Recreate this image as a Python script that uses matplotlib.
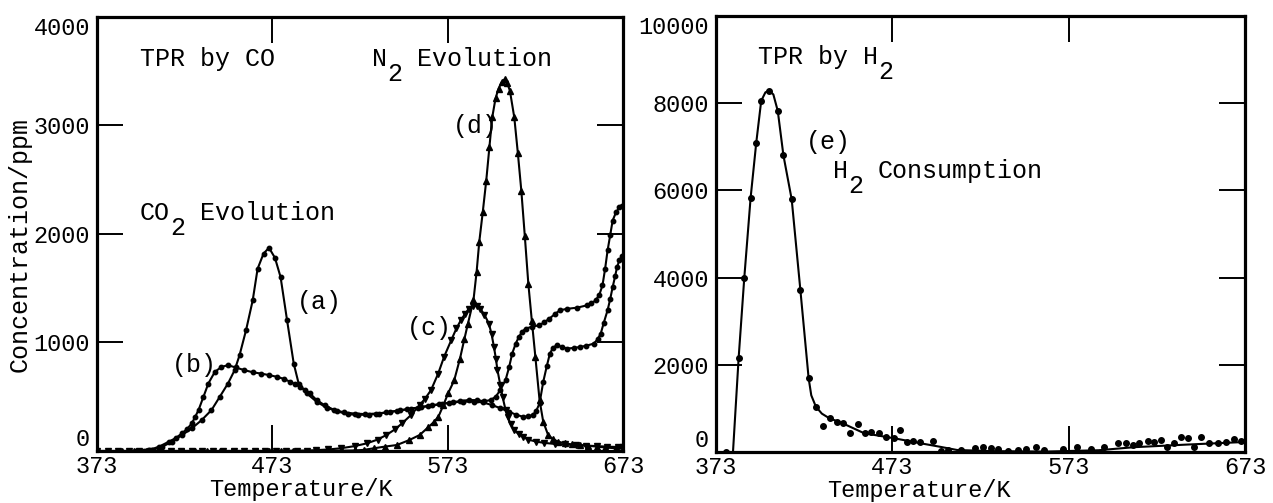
import matplotlib
matplotlib.use("Agg")
import matplotlib.pyplot as plt

plt.rcParams['font.family'] = ['Liberation Mono', 'DejaVu Sans Mono']

# ---- TPR by CO : CO2 evolution (a), (b) and N2 evolution (c), (d) ----
T_a = [395, 400, 404.6, 410.3, 415.9, 421.5, 427.1, 432.7, 438.3, 443, 447.7, 451.5,
       454.3, 458, 461.8, 464.6, 468, 471.1, 474.5, 477.7, 481.4, 485.2, 488, 492.7,
       498.3, 504, 510, 516, 522, 528, 534, 540, 546, 552, 558, 564, 570, 576, 582,
       588, 593, 598, 603, 608, 612, 616, 619, 621.6, 623.5, 625.4, 627.5, 629.5,
       631.3, 633, 635.2, 638, 641, 645, 648.6, 652, 656.4, 658.5, 660.3, 662, 664.2,
       665.7, 667.1, 668.5, 669.6, 671, 672.5]
C_a = [0, 3, 9, 40, 86, 147, 209, 285, 377, 499, 622, 745,
       883, 1113, 1388, 1680, 1820, 1873, 1780, 1603, 1205, 806, 622, 530,
       453, 400, 365, 340, 333, 335, 345, 360, 375, 390, 405, 420, 435, 448, 455,
       455, 448, 425, 395, 361, 335, 315, 320, 331, 370, 438, 637, 780,
       898, 950, 975, 960, 944, 950, 959, 970, 990, 1030, 1082, 1180, 1297,
       1400, 1511, 1610, 1695, 1760, 1800]

T_b = [390, 396, 402.8, 408.4, 414, 418, 421.5, 424.5, 427.1, 429, 430.9, 433.7,
       436.5, 440.2, 444, 447.7, 452, 457.1, 462, 466.4, 471, 475.8, 479.5, 483.3,
       486, 489, 491.8, 494.5, 498.3, 503, 508, 514, 520, 526, 532, 538, 544, 550,
       556, 562, 568, 574, 580, 585, 590, 594, 597.5, 600.3, 603, 606, 608, 609.8,
       611.8, 613.6, 615.5, 617.5, 621, 625.2, 628, 631, 634, 637, 641, 646.8,
       652.6, 655, 657.4, 659.5, 661.3, 662.8, 664.2, 665.7, 667.1, 669, 671, 672.5]
C_b = [-5, 0, 9, 40, 86, 120, 163, 205, 255, 315, 377, 499,
       622, 729, 775, 791, 770, 745, 725, 714, 700, 683, 665, 637,
       615, 591, 560, 530, 469, 420, 380, 355, 345, 340, 345, 355, 370, 385,
       400, 415, 430, 445, 460, 470, 468, 458, 470, 499, 560, 653, 770, 898,
       990, 1051, 1100, 1128, 1145, 1159, 1185, 1220, 1260, 1297, 1310, 1321,
       1343, 1360, 1389, 1440, 1527, 1680, 1848, 1990, 2124, 2200, 2246, 2260]

T_c = [373, 379, 385, 391, 397, 403, 409, 415, 421, 427, 433, 439, 445, 451, 457,
       463, 469, 475, 481, 487, 493, 498, 505, 512, 520, 527, 533, 538, 543, 547,
       552, 557, 560, 563.5, 567.6, 571, 575, 578, 580.5, 583, 585, 587.3, 589.5,
       591.6, 594, 596.5, 598, 599.4, 600.5, 601.4, 603, 604.3, 606, 607.2, 609,
       611, 613.5, 615.9, 619, 623.6, 628, 634, 640, 646, 652, 658, 664, 670, 673]
C_c = [0, 0, 0, 0, 0, 0, 0, 0, 0, 0, 0, 0, 0, 0, 0,
       0, 0, 0, 2, 3, 4, 8, 14, 25, 45, 71, 105, 147, 200, 255,
       330, 423, 480, 561, 714, 870, 1020, 1130, 1205, 1266, 1310, 1340, 1335,
       1312, 1255, 1174, 1080, 959, 850, 745, 610, 499, 380, 315, 245,
       193, 155, 131, 105, 86, 75, 65, 60, 55, 50, 45, 40, 37, 35]

T_d = [373, 380, 387, 394, 401, 408, 415, 422, 429, 436, 443, 450, 457, 464, 471,
       478, 485, 492, 499, 506, 513, 520, 525, 531, 537, 544, 551, 557, 562, 565,
       567.7, 570.5, 573.2, 576.7, 580, 582.5, 584.5, 587.7, 589.5, 591, 593, 595,
       596.8, 598.4, 600.3, 602, 603.8, 605.6, 607, 608.5, 611, 613, 615, 617, 619,
       621, 623, 625.4, 627.5, 630.3, 633, 636, 640, 644, 648.6, 653, 658.4, 663,
       669, 673]
C_d = [0, 0, 0, 0, 0, 0, 0, 0, 0, 0, 0, 0, 0, 0, 0,
       0, 0, 0, 0, 2, 3, 5, 10, 25, 40, 55, 100, 147, 220, 265,
       315, 420, 530, 650, 850, 1030, 1170, 1388, 1650, 1925, 2200, 2492,
       2800, 3074, 3250, 3340, 3400, 3427, 3390, 3320, 3074, 2750, 2400, 1980, 1542,
       1200, 870, 469, 270, 147, 110, 86, 70, 60, 55, 48, 40, 32,
       25, 20]

# ---- TPR by H2 : H2 consumption (e) ----
T_e_curve = [382.6, 385.8, 389, 392.6, 395.8, 398.6, 401, 403.3, 405.5, 408, 411.2,
             415.9, 420.8, 425.5, 427, 429.6, 433, 437.2, 444.7, 457, 474, 489,
             500, 509.7, 530, 560, 590, 610, 640, 673]
C_e_curve = [0, 2154, 3992, 5832, 7096, 8053, 8250, 8283, 8200, 7823, 6805,
             5793, 3724, 1694, 1300, 1041, 880, 775, 660, 430, 315, 200,
             120, 46, 20, 10, 40, 110, 170, 230]

T_e_pts = [378.8, 385.8, 389, 392.6, 395.8, 398.6, 403.3, 408, 411.2, 415.9, 420.8,
           425.5, 429.6, 433.6, 437.4, 441.6, 444.9, 449, 453.5, 457.2, 461, 465.2,
           469.5, 473.8, 477.1, 481.4, 484.6, 488.4, 496, 500.7, 504.4, 512, 519.6,
           524.3, 529, 532.8, 538.5, 544, 548.8, 554.5, 559, 569.6, 578, 585.6,
           593.2, 600.8, 605.5, 609.3, 613, 617.8, 621.5, 625.3, 629, 632.9, 636.7,
           640.5, 644.3, 648, 652.8, 657.5, 662.2, 667, 670.6]
C_e_pts = [0, 2154, 3992, 5832, 7096, 8053, 8283, 7823, 6805, 5793, 3724,
           1694, 1041, 598, 774, 697, 660, 430, 644, 430, 467, 430,
           338, 315, 506, 237, 260, 237, 260, 30, 46, 46, 85,
           122, 85, 62, 30, 46, 62, 122, 46, 62, 122, 62,
           122, 214, 200, 161, 200, 253, 237, 276, 122, 214, 352,
           315, 108, 338, 214, 214, 237, 292, 260]

x_ticks = [373, 473, 573, 673]


def sub_text(ax, x, y, before, sub, after, size=18):
    # monospace font: one character advance = 0.6 em, so pieces line up
    adv = 0.6 * size
    ax.text(x, y, before, fontsize=size, ha='left', va='center')
    ax.annotate(sub, xy=(x, y), xytext=(len(before) * adv, -0.6 * size),
                textcoords='offset points', fontsize=size, ha='left', va='center')
    if after:
        ax.annotate(after, xy=(x, y), xytext=((len(before) + len(sub) + 1) * adv, 0),
                    textcoords='offset points', fontsize=size, ha='left', va='center')


def style_axes(ax, ymax, yticks):
    ax.set_xlim(373, 673)
    ax.set_ylim(0, ymax)
    ax.set_xticks(x_ticks)
    ax.set_yticks(yticks)
    for s in ax.spines.values():
        s.set_linewidth(2.3)
    ax.tick_params(direction='in', length=19, width=1.4, top=True, right=True,
                   labelsize=17)
    ax.tick_params(axis='x', pad=3)
    ax.tick_params(axis='y', pad=5)
    # end labels sit inside the axis range, as in the original
    yt = ax.yaxis.get_major_ticks()
    yt[0].label1.set_verticalalignment('bottom')
    yt[-1].label1.set_verticalalignment('top')
    ax.set_xlabel('Temperature/K', fontsize=17)


fig = plt.figure(figsize=(12.73, 5.03), dpi=100)
ax1 = fig.add_axes([0.0762, 0.1034, 0.4132, 0.8628])
ax2 = fig.add_axes([0.5625, 0.1014, 0.4155, 0.8668])

line_kw = dict(color='black', linewidth=1.5)
ax1.plot(T_a, C_a, marker='o', markersize=3.2, **line_kw)
ax1.plot(T_b, C_b, marker='o', markersize=3.2, **line_kw)
ax1.plot(T_c, C_c, marker='v', markersize=3.8, **line_kw)
ax1.plot(T_d, C_d, marker='^', markersize=3.8, **line_kw)

style_axes(ax1, 4000, [0, 1000, 2000, 3000, 4000])
ax1.set_ylabel('Concentration/ppm', fontsize=18)
ax1.yaxis.set_label_coords(-0.124, 0.476)
ax1.xaxis.set_label_coords(0.388, -0.062)

ax1.text(397.5, 3614, 'TPR by CO', fontsize=18, ha='left', va='center')
sub_text(ax1, 530, 3614, 'N', '2', 'Evolution')
sub_text(ax1, 397.5, 2198, 'CO', '2', 'Evolution')
ax1.text(487, 1370, '(a)', fontsize=18, ha='left', va='center')
ax1.text(415.8, 791, '(b)', fontsize=18, ha='left', va='center')
ax1.text(549.8, 1131, '(c)', fontsize=18, ha='left', va='center')
ax1.text(576, 2998, '(d)', fontsize=18, ha='left', va='center')

ax2.plot(T_e_curve, C_e_curve, **line_kw)
ax2.plot(T_e_pts, C_e_pts, linestyle='none', marker='o', markersize=4, color='black')

style_axes(ax2, 10000, [0, 2000, 4000, 6000, 8000, 10000])
ax2.xaxis.set_label_coords(0.384, -0.062)

sub_text(ax2, 396.8, 9057, 'TPR by H', '2', '')
ax2.text(424, 7103, '(e)', fontsize=18, ha='left', va='center')
sub_text(ax2, 439.3, 6437, 'H', '2', 'Consumption')

fig.savefig('out.png', dpi=100)
